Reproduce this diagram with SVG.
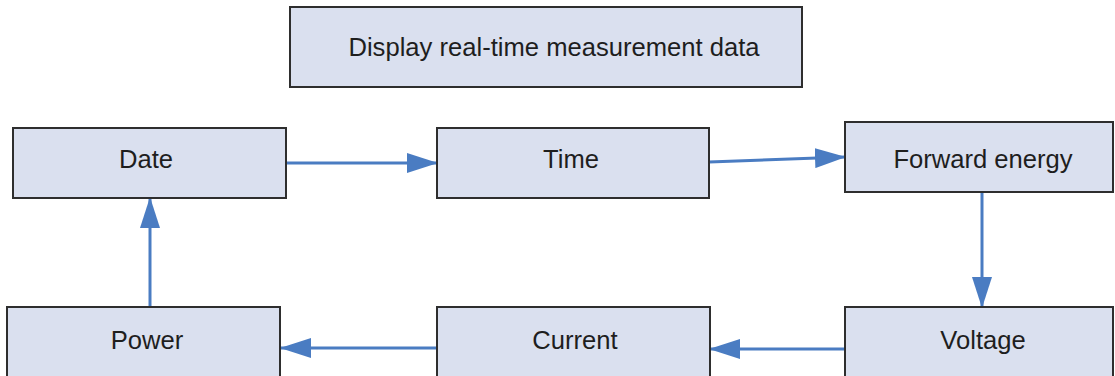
<svg xmlns="http://www.w3.org/2000/svg" width="1115" height="376" viewBox="0 0 1115 376">
<style>
.box{fill:#dae0ef;stroke:#2e2e2e;stroke-width:2}
.lbl{font-family:"Liberation Sans",Arial,sans-serif;font-size:25.6px;fill:#1e1e1e;text-anchor:middle}
.conn{stroke:#4a7cc2;stroke-width:3;fill:none;marker-end:url(#ah)}
</style>
<defs>
<marker id="ah" markerUnits="userSpaceOnUse" markerWidth="31" markerHeight="20" refX="30" refY="10" orient="auto">
<path d="M0,0 L31,10 L0,20 Z" fill="#4a7cc2"/>
</marker>
</defs>
<rect width="1115" height="376" fill="#ffffff"/>
<g id="connectors">
<line class="conn" x1="286" y1="163" x2="437" y2="163"/>
<line class="conn" x1="709" y1="162" x2="845" y2="157"/>
<line class="conn" x1="982" y1="192" x2="982" y2="307"/>
<line class="conn" x1="845" y1="349" x2="710" y2="349"/>
<line class="conn" x1="437" y1="348" x2="281" y2="348"/>
<line class="conn" x1="150" y1="307" x2="150" y2="198"/>
</g>
<g id="display">
<rect class="box" x="290" y="7" width="512" height="80"/>
<text class="lbl" x="554" y="56">Display real-time measurement data</text>
</g>
<g id="date">
<rect class="box" x="13" y="128" width="273" height="70"/>
<text class="lbl" x="146" y="168">Date</text>
</g>
<g id="time">
<rect class="box" x="437" y="128" width="272" height="70"/>
<text class="lbl" x="571" y="168">Time</text>
</g>
<g id="forward">
<rect class="box" x="845" y="122" width="268" height="70"/>
<text class="lbl" x="983" y="168">Forward energy</text>
</g>
<g id="voltage">
<rect class="box" x="845" y="307" width="268" height="75"/>
<text class="lbl" x="983" y="349">Voltage</text>
</g>
<g id="current">
<rect class="box" x="437" y="307" width="273" height="75"/>
<text class="lbl" x="575" y="349">Current</text>
</g>
<g id="power">
<rect class="box" x="7" y="307" width="273" height="75"/>
<text class="lbl" x="147" y="349">Power</text>
</g>
</svg>
